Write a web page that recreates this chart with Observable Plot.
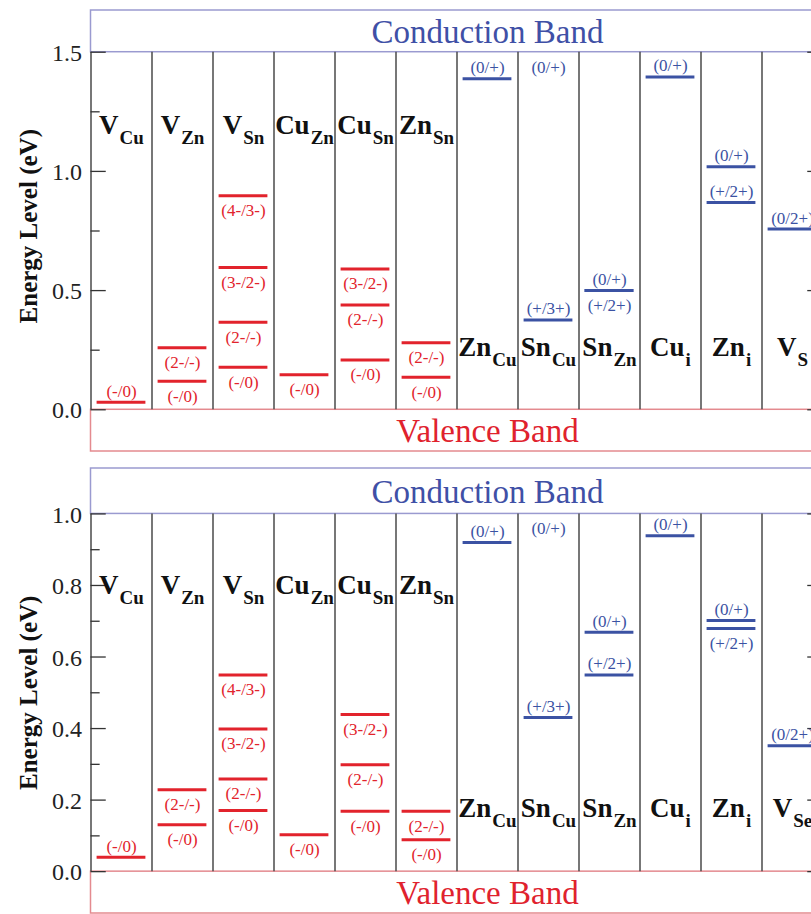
<!DOCTYPE html>
<html>
<head>
<meta charset="utf-8">
<script src="https://cdn.jsdelivr.net/npm/d3@7"></script>
<script src="https://cdn.jsdelivr.net/npm/@observablehq/plot@0.6"></script>
<style>
  html, body { margin: 0; padding: 0; background: white; overflow: hidden; }
  svg { display: block; }
  svg text { font-family: "Liberation Serif", "Times New Roman", serif; }
</style>
</head>
<body>
<div id="chart"></div>
<script>
// ---------- data ----------
const defects1 = ["V_Cu", "V_Zn", "V_Sn", "Cu_Zn", "Cu_Sn", "Zn_Sn", "Zn_Cu", "Sn_Cu", "Sn_Zn", "Cu_i", "Zn_i", "V_S"];
const defects2 = ["V_Cu", "V_Zn", "V_Sn", "Cu_Zn", "Cu_Sn", "Zn_Sn", "Zn_Cu", "Sn_Cu", "Sn_Zn", "Cu_i", "Zn_i", "V_Se"];

// panel 1 (sulfide) transition levels
const lv1Defect = ["V_Cu", "V_Zn", "V_Zn", "V_Sn", "V_Sn", "V_Sn", "V_Sn", "Cu_Zn", "Cu_Sn", "Cu_Sn", "Cu_Sn", "Zn_Sn", "Zn_Sn",
                   "Zn_Cu", "Sn_Cu", "Sn_Cu", "Sn_Zn", "Sn_Zn", "Cu_i", "Zn_i", "Zn_i", "V_S"];
const lv1Energy = [0.032, 0.26, 0.12, 0.898, 0.597, 0.367, 0.178, 0.147, 0.591, 0.44, 0.209, 0.281, 0.137,
                   1.389, 1.5, 0.377, 0.50, 0.50, 1.396, 1.02, 0.87, 0.758];
const lv1Label  = ["(-/0)", "(2-/-)", "(-/0)", "(4-/3-)", "(3-/2-)", "(2-/-)", "(-/0)", "(-/0)", "(3-/2-)", "(2-/-)", "(-/0)", "(2-/-)", "(-/0)",
                   "(0/+)", "(0/+)", "(+/3+)", "(0/+)", "(+/2+)", "(0/+)", "(0/+)", "(+/2+)", "(0/2+)"];
const lv1Side   = ["above", "below", "below", "below", "below", "below", "below", "below", "below", "below", "below", "below", "below",
                   "above", "below", "above", "above", "below", "above", "above", "above", "above"];

// panel 2 (selenide) transition levels
const lv2Defect = ["V_Cu", "V_Zn", "V_Zn", "V_Sn", "V_Sn", "V_Sn", "V_Sn", "Cu_Zn", "Cu_Sn", "Cu_Sn", "Cu_Sn", "Zn_Sn", "Zn_Sn",
                   "Zn_Cu", "Sn_Cu", "Sn_Cu", "Sn_Zn", "Sn_Zn", "Cu_i", "Zn_i", "Zn_i", "V_Se"];
const lv2Energy = [0.040, 0.229, 0.131, 0.550, 0.399, 0.259, 0.171, 0.103, 0.439, 0.299, 0.169, 0.169, 0.089,
                   0.920, 1.0, 0.431, 0.669, 0.550, 0.939, 0.702, 0.680, 0.352];
const lv2Label  = lv1Label;
const lv2Side   = ["above", "below", "below", "below", "below", "below", "below", "below", "below", "below", "below", "below", "below",
                   "above", "below", "above", "above", "above", "above", "above", "below", "above"];

const bandLabels = ["Conduction Band", "Valence Band"];
const axisTitle = "Energy Level (eV)";
const ticks1Major = [0, 0.5, 1.0, 1.5];
const ticks1Minor = [0.25, 0.75, 1.25];
const ticks2Major = [0, 0.2, 0.4, 0.6, 0.8, 1.0];
const ticks2Minor = [0.1, 0.3, 0.5, 0.7, 0.9];

// ---------- style ----------
const RED = "#e2232c";
const BLUE = "#3b52a3";
const FONT = "Liberation Serif";

function makeRows(defs, energy, labels, sides, defects) {
  return defs.map((d, i) => ({
    col: defects.indexOf(d),
    E: energy[i],
    label: labels[i],
    side: sides[i],
    acceptor: defects.indexOf(d) < 6
  }));
}

function panel(cfg) {
  const {defects, rows, cbm, yDomain, height, marginTop, marginBottom, major, minor, topRowY, botRowY, titleY} = cfg;
  const n = defects.length;
  const cols = defects.map((d, i) => ({d, i}));
  const lines = rows.filter(r => r.E < cbm);
  const color = r => r.acceptor ? RED : BLUE;
  return Plot.plot({
    width: 830,
    height,
    marginLeft: 90.5,
    marginRight: 830 - 822.5,
    marginTop,
    marginBottom,
    x: {domain: [0, n], axis: null},
    y: {domain: yDomain, axis: null},
    style: {fontFamily: FONT, maxWidth: "none", background: "white", overflow: "visible", color: "black"},
    marks: [
      // bands
      Plot.rect([0], {x1: 0, x2: n, y1: cbm, y2: yDomain[1], fill: "white", stroke: "#9a9ad0", strokeWidth: 1.5}),
      Plot.rect([0], {x1: 0, x2: n, y1: yDomain[0], y2: 0, fill: "white", stroke: "#e48a8f", strokeWidth: 1.5}),
      Plot.text([bandLabels[0]], {x: n / 2 + 0.5, y: (cbm + yDomain[1]) / 2, text: d => d, fill: "#3f50a6", fontSize: 33, fontFamily: FONT, lineAnchor: "middle", dy: 1}),
      Plot.text([bandLabels[1]], {x: n / 2 + 0.5, y: yDomain[0] / 2, text: d => d, fill: "#e0222d", fontSize: 33, fontFamily: FONT, lineAnchor: "middle", dy: 1}),
      // column dividers
      Plot.ruleX(d3.range(n + 1), {x: d => d, y1: 0, y2: cbm, stroke: "#4a4a4a", strokeWidth: 1.5}),
      // ticks (inward) left and right
      Plot.ruleY(major, {y: d => d, x1: 0, x2: 0.25, stroke: "#333", strokeWidth: 1.3}),
      Plot.ruleY(minor, {y: d => d, x1: 0, x2: 0.15, stroke: "#333", strokeWidth: 1.3}),
      Plot.ruleY(major, {y: d => d, x1: n - 0.25, x2: n, stroke: "#333", strokeWidth: 1.3}),
      Plot.ruleY(minor, {y: d => d, x1: n - 0.15, x2: n, stroke: "#333", strokeWidth: 1.3}),
      Plot.text(major, {x: 0, y: d => d, text: d => d3.format(".1f")(d), textAnchor: "end", dx: -9, dy: 1, fontSize: 24, fontFamily: FONT, fill: "#222"}),
      // axis title
      Plot.text([axisTitle], {frameAnchor: "left", y: titleY, text: d => d, rotate: -90, textAnchor: "middle", dx: -62, fontSize: 25, fontWeight: "bold", fontFamily: FONT, fill: "#111"}),
      // level lines
      Plot.ruleY(lines, {y: "E", x1: r => r.col + 0.1, x2: r => r.col + 0.9, stroke: color, strokeWidth: 3}),
      // level labels
      Plot.text(rows.filter(r => r.side === "above"), {x: r => r.col + 0.5, y: "E", text: "label", fill: color, fontSize: 17, fontFamily: FONT, dy: -11}),
      Plot.text(rows.filter(r => r.side === "below"), {x: r => r.col + 0.5, y: "E", text: "label", fill: color, fontSize: 17, fontFamily: FONT, dy: 15}),
      // defect names
      Plot.text(cols, {x: c => c.i + 0.5, y: c => c.i < 6 ? topRowY : botRowY, text: "d", fontSize: 27, fontWeight: "bold", fontFamily: FONT, lineAnchor: "bottom", fill: "#111"})
    ]
  });
}

function subscripts(svg) {
  svg.querySelectorAll("text").forEach(t => {
    const s = t.textContent;
    if (t.childElementCount === 0 && s.includes("_")) {
      const [main, sub] = s.split("_");
      t.textContent = "";
      const ns = "http://www.w3.org/2000/svg";
      const a = document.createElementNS(ns, "tspan");
      a.textContent = main;
      const b = document.createElementNS(ns, "tspan");
      b.textContent = sub;
      b.setAttribute("font-size", "19");
      b.setAttribute("dy", "10");
      b.setAttribute("dx", "1");
      t.appendChild(a);
      t.appendChild(b);
    }
  });
  return svg;
}

const p1 = panel({
  defects: defects1,
  rows: makeRows(lv1Defect, lv1Energy, lv1Label, lv1Side, defects1),
  cbm: 1.5,
  yDomain: [-0.175, 1.675],
  height: 460, marginTop: 10, marginBottom: 9,
  major: ticks1Major, minor: ticks1Minor,
  topRowY: 1.157, botRowY: 0.227, titleY: 0.77
});
const p2 = panel({
  defects: defects2,
  rows: makeRows(lv2Defect, lv2Energy, lv2Label, lv2Side, defects2),
  cbm: 1.0,
  yDomain: [-0.117, 1.127],
  height: 454, marginTop: 8, marginBottom: 1,
  major: ticks2Major, minor: ticks2Minor,
  topRowY: 0.777, botRowY: 0.152, titleY: 0.5
});
const chart = document.getElementById("chart");
chart.appendChild(subscripts(p1));
chart.appendChild(subscripts(p2));
</script>
</body>
</html>
